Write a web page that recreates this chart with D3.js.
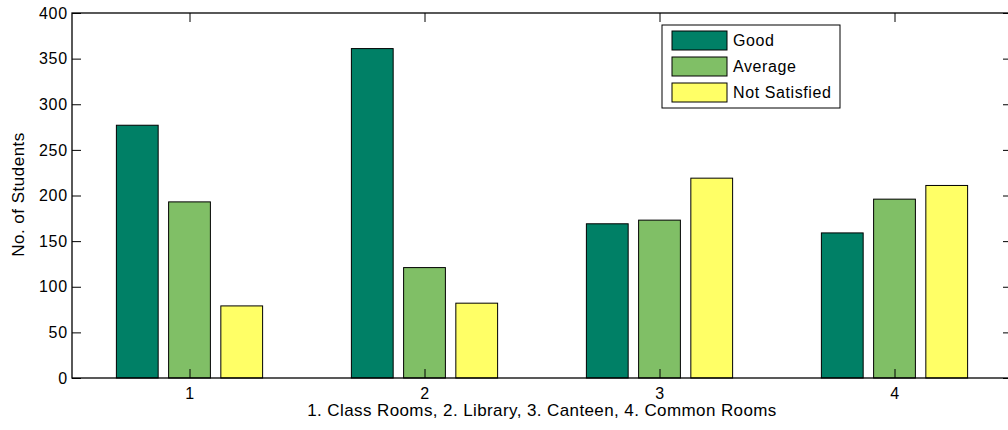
<!DOCTYPE html>
<html>
<head>
<meta charset="utf-8">
<script src="https://cdn.jsdelivr.net/npm/d3@7"></script>
<style>
  body { margin: 0; background: #fff; }
  text { font-family: "Liberation Sans", Arial, sans-serif; fill: #000; }
</style>
</head>
<body>
<script>
// values
const categories = [1, 2, 3, 4];
const seriesNames = ["Good", "Average", "Not Satisfied"];
const good = [277, 361, 169, 159];
const average = [193, 121, 173, 196];
const notSatisfied = [79, 82, 219, 211];
const yTicks = [0, 50, 100, 150, 200, 250, 300, 350, 400];
const xTitle = "1. Class Rooms, 2. Library, 3. Canteen, 4. Common Rooms";
const yTitle = "No. of Students";

const series = [good, average, notSatisfied];
const colors = ["#008066", "#80bf66", "#ffff66"]; // matlab summer

const width = 1008, height = 430;
const plotL = 72, plotR = 1012, plotT = 13, plotB = 378;

let svg = d3.select("body").append("svg")
    .attr("width", width)
    .attr("height", height);

let x = d3.scaleLinear().domain([0.5, 4.5]).range([plotL, plotR]);
let y = d3.scaleLinear().domain([0, 400]).range([plotB, plotT]);

// grouped bars, matlab style spacing
const groupW = 2 / 3;
const slot = groupW / series.length;
const barW = slot * 0.8;

series.forEach((vals, s) => {
  svg.append("g")
    .selectAll("rect")
    .data(vals)
    .enter()
    .append("rect")
      .attr("x", (d, i) => x(categories[i] - groupW / 2 + slot * s + (slot - barW) / 2))
      .attr("width", (d, i) => x(categories[i] + barW) - x(categories[i]))
      .attr("y", d => y(d))
      .attr("height", d => y(0) - y(d))
      .attr("fill", colors[s])
      .attr("stroke", "#000")
      .attr("stroke-width", 1);
});

// axes: left and bottom with labels, top and right just ticks
let yAxis = d3.axisLeft(y).tickValues(yTicks).tickSize(-9).tickPadding(4);
let gy = svg.append("g").attr("transform", `translate(${plotL},0)`).call(yAxis);

let xAxis = d3.axisBottom(x).tickValues(categories).tickSize(-9).tickPadding(10).tickFormat(d3.format("d"));
let gx = svg.append("g").attr("transform", `translate(0,${plotB})`).call(xAxis);

let yAxisR = d3.axisRight(y).tickValues(yTicks).tickSize(-9).tickFormat("");
let gyr = svg.append("g").attr("transform", `translate(${plotR},0)`).call(yAxisR);

let xAxisT = d3.axisTop(x).tickValues(categories).tickSize(-9).tickFormat("");
let gxt = svg.append("g").attr("transform", `translate(0,${plotT})`).call(xAxisT);

[gy, gx, gyr, gxt].forEach(g => {
  g.select(".domain").remove();
  g.selectAll("line").attr("stroke", "#000").attr("stroke-width", 1);
  g.selectAll("text")
    .style("font-size", "16px")
    .style("letter-spacing", "0.8px")
    .attr("fill", "#000");
});

// box
svg.append("rect")
  .attr("x", plotL).attr("y", plotT)
  .attr("width", plotR - plotL).attr("height", plotB - plotT)
  .attr("fill", "none")
  .attr("stroke", "#000")
  .attr("stroke-width", 1.3);

// titles
svg.append("text")
  .attr("x", (plotL + plotR) / 2)
  .attr("y", 416)
  .attr("text-anchor", "middle")
  .style("font-size", "17px")
  .style("letter-spacing", "0.4px")
  .text(xTitle);

svg.append("text")
  .attr("transform", `translate(24,${(plotT + plotB) / 2 - 1}) rotate(-90)`)
  .attr("text-anchor", "middle")
  .style("font-size", "17px")
  .style("letter-spacing", "0.5px")
  .text(yTitle);

// legend
let legend = svg.append("g").attr("id", "legend");
legend.append("rect")
  .attr("x", 662).attr("y", 25)
  .attr("width", 178).attr("height", 83)
  .attr("fill", "#fff")
  .attr("stroke", "#000")
  .attr("stroke-width", 1);

seriesNames.forEach((name, i) => {
  let row = legend.append("g").attr("transform", `translate(672,${31 + i * 26})`);
  row.append("rect")
    .attr("width", 55).attr("height", 19)
    .attr("fill", colors[i])
    .attr("stroke", "#000");
  row.append("text")
    .attr("x", 61).attr("y", 15)
    .style("font-size", "16px")
    .style("letter-spacing", "0.6px")
    .text(name);
});
</script>
</body>
</html>
